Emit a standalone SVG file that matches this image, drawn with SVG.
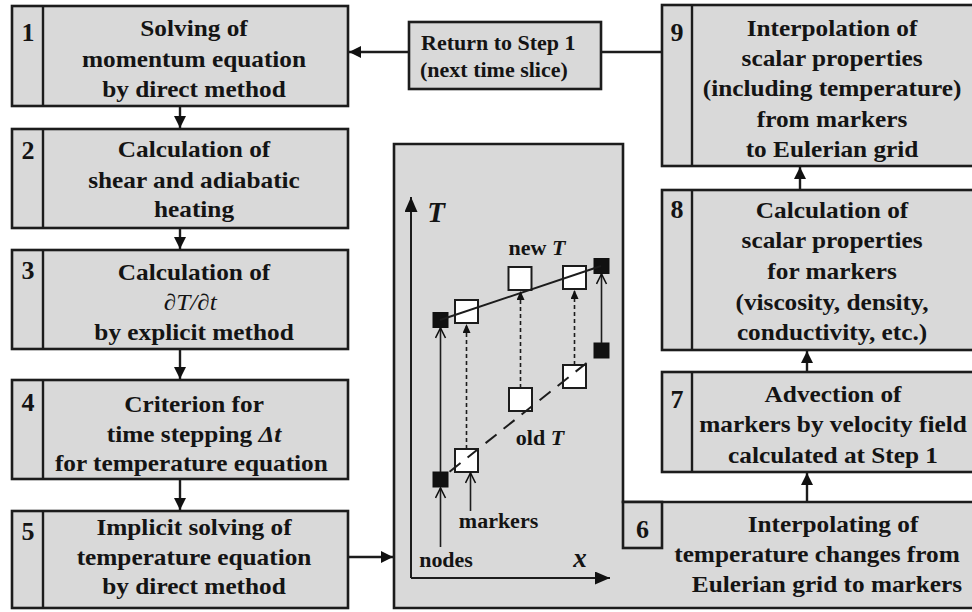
<svg xmlns="http://www.w3.org/2000/svg" width="972" height="612" viewBox="0 0 972 612">
<style>
.box{fill:#d9d9d9;stroke:#1c1c1c;stroke-width:2.6}
.div{stroke:#1c1c1c;stroke-width:2.4}
.t{font-family:"Liberation Serif","Times New Roman",serif;font-weight:bold;font-size:23px;text-anchor:middle;fill:#141414}
.n{font-family:"Liberation Serif","Times New Roman",serif;font-weight:bold;font-size:26px;text-anchor:middle;fill:#141414}
.r{font-family:"Liberation Serif","Times New Roman",serif;font-weight:bold;font-size:22px;fill:#141414}
.it{font-style:italic}
.con{fill:none;stroke:#1c1c1c;stroke-width:2.4}
.ax{fill:none;stroke:#1c1c1c;stroke-width:2}
.mk{fill:#fff;stroke:#1c1c1c;stroke-width:2}
.nd{fill:#111;stroke:#111;stroke-width:1}
.dot{fill:none;stroke:#1c1c1c;stroke-width:1.6;stroke-dasharray:4 3}
.dash{fill:none;stroke:#1c1c1c;stroke-width:2;stroke-dasharray:14 8}
</style>
<defs>
<marker id="ah" markerUnits="userSpaceOnUse" markerWidth="12" markerHeight="12" refX="12" refY="6" orient="auto"><path d="M0,0 L12,6 L0,12 z" fill="#111"/></marker>
<marker id="axh" markerUnits="userSpaceOnUse" markerWidth="15" markerHeight="13" refX="15" refY="6.5" orient="auto"><path d="M0,0 L15,6.5 L0,13 z" fill="#111"/></marker>
<marker id="oh" markerUnits="userSpaceOnUse" markerWidth="12" markerHeight="12" refX="11" refY="6" orient="auto"><path d="M1,1 L11,6 L1,11" fill="none" stroke="#111" stroke-width="1.6"/></marker>
<marker id="sh" markerUnits="userSpaceOnUse" markerWidth="9" markerHeight="8" refX="9" refY="4" orient="auto"><path d="M0,0 L9,4 L0,8 z" fill="#111"/></marker>
</defs>
<rect width="972" height="612" fill="#fff"/>

<g id="step1">
<rect class="box" x="12" y="6" width="336" height="100"/>
<line class="div" x1="43" y1="6" x2="43" y2="106"/>
<text class="n" x="28" y="41">1</text>
<g transform="scale(1.1,1)">
<text class="t" x="176.4" y="36">Solving of</text>
<text class="t" x="176.4" y="67">momentum equation</text>
<text class="t" x="176.4" y="97">by direct method</text>
</g>
</g>

<g id="step2">
<rect class="box" x="12" y="129" width="336" height="99"/>
<line class="div" x1="43" y1="129" x2="43" y2="228"/>
<text class="n" x="28" y="159">2</text>
<g transform="scale(1.1,1)">
<text class="t" x="176.4" y="157">Calculation of</text>
<text class="t" x="176.4" y="188">shear and adiabatic</text>
<text class="t" x="176.4" y="217">heating</text>
</g>
</g>

<g id="step3">
<rect class="box" x="12" y="250" width="336" height="99"/>
<line class="div" x1="43" y1="250" x2="43" y2="349"/>
<text class="n" x="28" y="279">3</text>
<g transform="scale(1.1,1)">
<text class="t" x="176.4" y="280">Calculation of</text>
<text class="t it" x="173" y="310" style="font-weight:normal">∂T/∂t</text>
<text class="t" x="176.4" y="340">by explicit method</text>
</g>
</g>

<g id="step4">
<rect class="box" x="12" y="380" width="336" height="99"/>
<line class="div" x1="43" y1="380" x2="43" y2="479"/>
<text class="n" x="28" y="411">4</text>
<g transform="scale(1.1,1)">
<text class="t" x="176.4" y="412">Criterion for</text>
<text class="t" x="176.4" y="442">time stepping <tspan class="it">Δt</tspan></text>
<text class="t" x="174" y="471">for temperature equation</text>
</g>
</g>

<g id="step5">
<rect class="box" x="12" y="511" width="336" height="97"/>
<line class="div" x1="43" y1="511" x2="43" y2="608"/>
<text class="n" x="28" y="540">5</text>
<g transform="scale(1.1,1)">
<text class="t" x="176.4" y="535">Implicit solving of</text>
<text class="t" x="176.4" y="565">temperature equation</text>
<text class="t" x="176.4" y="594">by direct method</text>
</g>
</g>

<g id="return">
<rect class="box" x="409" y="22" width="192" height="67"/>
<text class="r" x="421" y="50">Return to Step 1</text>
<text class="r" x="420" y="77">(next time slice)</text>
</g>

<g id="step9">
<rect class="box" x="662" y="5" width="320" height="161"/>
<line class="div" x1="692" y1="5" x2="692" y2="166"/>
<text class="n" x="677" y="41">9</text>
<g transform="scale(1.1,1)">
<text class="t" x="756.4" y="36">Interpolation of</text>
<text class="t" x="756.4" y="66">scalar properties</text>
<text class="t" x="756.4" y="96">(including temperature)</text>
<text class="t" x="756.4" y="127">from markers</text>
<text class="t" x="756.4" y="157">to Eulerian grid</text>
</g>
</g>

<g id="step8">
<rect class="box" x="662" y="190" width="320" height="160"/>
<line class="div" x1="692" y1="190" x2="692" y2="350"/>
<text class="n" x="677" y="218">8</text>
<g transform="scale(1.1,1)">
<text class="t" x="756.4" y="218">Calculation of</text>
<text class="t" x="756.4" y="248">scalar properties</text>
<text class="t" x="756.4" y="279">for markers</text>
<text class="t" x="756.4" y="310">(viscosity, density,</text>
<text class="t" x="756.4" y="340">conductivity, etc.)</text>
</g>
</g>

<g id="step7">
<rect class="box" x="662" y="372" width="320" height="100"/>
<line class="div" x1="692" y1="372" x2="692" y2="472"/>
<text class="n" x="677" y="408">7</text>
<g transform="scale(1.1,1)">
<text class="t" x="757.3" y="402">Advection of</text>
<text class="t" x="757.3" y="432">markers by velocity field</text>
<text class="t" x="757.3" y="463">calculated at Step 1</text>
</g>
</g>

<g id="step6">
<path class="box" d="M394,144 H623 V502 H982 V608 H394 Z"/>
<rect class="box" x="623" y="502" width="39" height="46"/>
<text class="n" x="642.5" y="538">6</text>
<g transform="scale(1.1,1)">
<text class="t" x="757.3" y="532">Interpolating of</text>
<text class="t" x="742.7" y="562">temperature changes from</text>
<text class="t" x="751.8" y="592">Eulerian grid to markers</text>
</g>
<path class="ax" d="M411,578 V197" marker-end="url(#axh)"/>
<path class="ax" d="M411,578 H610" marker-end="url(#axh)"/>
<text class="t it" x="436" y="222" style="font-size:29px">T</text>
<text class="t it" x="580" y="567" style="font-size:27px">x</text>
<g transform="scale(1.1,1)">
<text class="t" x="488.2" y="255" style="font-size:20px">new <tspan class="it">T</tspan></text>
<text class="t" x="490.9" y="445" style="font-size:20px">old <tspan class="it">T</tspan></text>
<text class="t" x="453.2" y="528" style="font-size:20px">markers</text>
<text class="t" x="405.5" y="567" style="font-size:20px">nodes</text>
</g>
<rect class="mk" x="455" y="300" width="23" height="23"/>
<rect class="mk" x="508.5" y="267" width="23" height="23"/>
<rect class="mk" x="563" y="266" width="23" height="23"/>
<rect class="mk" x="455" y="449" width="23" height="23"/>
<rect class="mk" x="509" y="388" width="23" height="23"/>
<rect class="mk" x="563" y="365" width="23" height="23"/>
<rect class="nd" x="433" y="312.5" width="15" height="15"/>
<rect class="nd" x="594" y="258.5" width="15" height="15"/>
<rect class="nd" x="594" y="343" width="15" height="15"/>
<rect class="nd" x="433" y="472" width="15" height="15"/>
<path class="ax" d="M440,320 L601,266"/>
<path class="dash" d="M448,473 L589,361" style="stroke-dasharray:14 9;stroke-dashoffset:-2"/>
<path class="ax" d="M440.5,472 V328" marker-end="url(#oh)" style="stroke-width:1.6"/>
<path class="ax" d="M601.5,343 V274" marker-end="url(#oh)" style="stroke-width:1.6"/>
<path class="ax" d="M440.5,547 V488" marker-end="url(#oh)" style="stroke-width:1.6"/>
<path class="ax" d="M470.5,511 V473" marker-end="url(#oh)" style="stroke-width:1.6"/>
<path class="dot" d="M466.5,449 V324" marker-end="url(#sh)"/>
<path class="dot" d="M520.5,388 V291" marker-end="url(#sh)"/>
<path class="dot" d="M574.5,365 V290" marker-end="url(#sh)"/>
</g>

<g id="connectors">
<path class="con" d="M180,107 V128" marker-end="url(#ah)"/>
<path class="con" d="M180,229 V249" marker-end="url(#ah)"/>
<path class="con" d="M180,350 V379" marker-end="url(#ah)"/>
<path class="con" d="M180,480 V510" marker-end="url(#ah)"/>
<path class="con" d="M349,557 H393" marker-end="url(#ah)"/>
<path class="con" d="M807,501 V473" marker-end="url(#ah)"/>
<path class="con" d="M807,371 V351" marker-end="url(#ah)"/>
<path class="con" d="M800,189 V167" marker-end="url(#ah)"/>
<path class="con" d="M661,52 H602"/>
<path class="con" d="M408,52 H349" marker-end="url(#ah)"/>
</g>
</svg>
